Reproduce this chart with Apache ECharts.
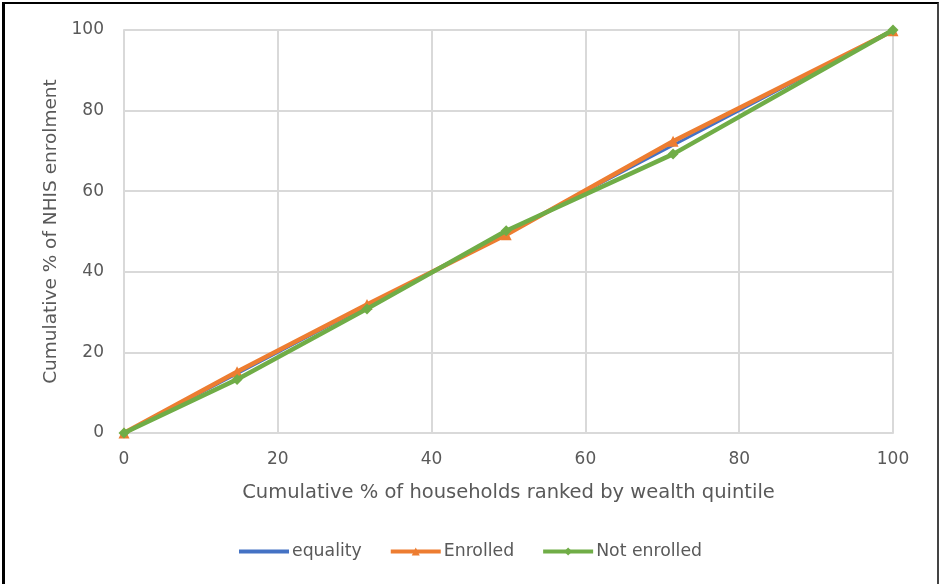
<!DOCTYPE html>
<html><head><meta charset="utf-8">
<script src="https://cdn.jsdelivr.net/npm/echarts@6/dist/echarts.min.js"></script>
<style>
html,body{margin:0;padding:0;background:#fff;}
#frame{position:absolute;left:2px;top:2px;width:932px;height:600px;border-left:3px solid #000;border-top:2px solid #000;border-right:2px solid #444;}
#chart{position:absolute;left:0;top:0;width:939px;height:584px;}
</style></head>
<body>
<div id="frame"></div>
<div id="chart"></div>
<script>
const xCum = [0, 14.7, 31.6, 49.7, 71.4, 100];
const equality = [0, 14.7, 31.6, 49.7, 71.4, 100];
const enrolled = [0, 15.2, 31.9, 49.2, 72.4, 99.8];
const notEnrolled = [0, 13.3, 30.8, 50.2, 69.2, 100];
const seriesNames = ['equality', 'Enrolled', 'Not enrolled'];
const colors = ['#4472C4', '#ED7D31', '#70AD47'];

const pairs = arr => xCum.map((x, i) => [x, arr[i]]);
const font = '"DejaVu Sans", sans-serif';
const txt = '#595959';
const chart = echarts.init(document.getElementById('chart'));
chart.setOption({
  animation: false,
  grid: {left: 124, right: 46, top: 30, bottom: 151},
  xAxis: {
    type: 'value', min: 0, max: 100, interval: 20,
    name: 'Cumulative % of households ranked by wealth quintile',
    nameLocation: 'middle', nameGap: 50,
    nameTextStyle: {color: txt, fontSize: 19.5, fontFamily: font},
    axisLine: {show: true, lineStyle: {color: '#d9d9d9', width: 2}},
    axisTick: {show: false},
    axisLabel: {color: txt, fontSize: 17, fontFamily: font, margin: 18},
    splitLine: {show: true, lineStyle: {color: '#d9d9d9', width: 2}}
  },
  yAxis: {
    type: 'value', min: 0, max: 100, interval: 20,
    name: 'Cumulative % of NHIS enrolment',
    nameLocation: 'middle', nameGap: 63,
    nameTextStyle: {color: txt, fontSize: 18.5, fontFamily: font},
    axisLine: {show: true, lineStyle: {color: '#d9d9d9', width: 2}},
    axisTick: {show: false},
    axisLabel: {color: txt, fontSize: 17, fontFamily: font, margin: 20},
    splitLine: {show: true, lineStyle: {color: '#d9d9d9', width: 2}}
  },
  legend: {
    bottom: 19, left: 'center', itemGap: 27, itemWidth: 50, itemHeight: 10,
    lineStyle: {width: 4},
    textStyle: {color: txt, fontSize: 17.3, fontFamily: font, padding: [0, 0, 0, -2]},
    data: [
      {name: seriesNames[0], itemStyle: {opacity: 0}},
      seriesNames[1],
      seriesNames[2]
    ]
  },
  series: [
    {name: seriesNames[0], type: 'line', data: pairs(equality), color: colors[0],
     lineStyle: {width: 3}, symbol: 'none', z: 1},
    {name: seriesNames[1], type: 'line', data: pairs(enrolled), color: colors[1],
     lineStyle: {width: 4.5}, symbol: 'triangle', symbolSize: 11, z: 2},
    {name: seriesNames[2], type: 'line', data: pairs(notEnrolled), color: colors[2],
     lineStyle: {width: 4.5}, symbol: 'diamond', symbolSize: 11, z: 3}
  ]
});
</script>
</body></html>
